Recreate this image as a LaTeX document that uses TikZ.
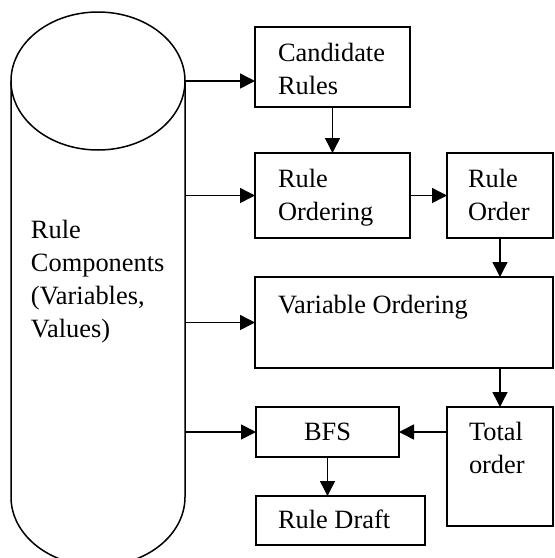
\documentclass[tikz,border=0pt]{standalone}
\usepackage{fontspec}
\setmainfont{Liberation Serif}
\usetikzlibrary{arrows.meta}
\newcommand{\boxfont}{\fontsize{13.2}{16.5}\selectfont}
\tikzset{
  blk/.style={draw, line width=.75pt, anchor=north west, outer sep=0pt, inner ysep=0pt, align=left, font=\boxfont,
    execute at begin node={\spaceskip=.25em\relax}},
  arr/.style={line width=.75pt, -{Triangle[length=7.5pt,width=7.5pt]}}
}
\begin{document}
\begin{tikzpicture}[x=.5pt,y=-.5pt]
\useasboundingbox (0,0) rectangle (554,558);
\node (db) at (11,81) [anchor=north west, outer sep=0pt, inner ysep=0pt, inner xsep=10pt, text width=67pt, align=left, font=\boxfont, text height=78.5pt, text depth=129.5pt] {Rule\\Components\\(Variables,\\Values)};
\draw[line width=.75pt] (db.north west) -- (db.south west) arc[start angle=180, end angle=0, x radius=87, y radius=69] -- (db.north east);
\draw[line width=.75pt] (db.north) ellipse [x radius=87, y radius=69];

\node (cand) at (255,27) [blk, inner xsep=11.5pt, text width=54.5pt, text height=17pt, text depth=23pt] {Candidate\\Rules};
\node (rord) at (255,153) [blk, inner xsep=11.5pt, text width=54.5pt, text height=17pt, text depth=25.5pt] {Rule\\Ordering};
\node (rorder) at (447,153) [blk, inner xsep=10.5pt, text width=32pt, text height=17pt, text depth=25.5pt] {Rule\\Order};
\node (vord) at (255,277) [blk, inner xsep=11.5pt, text width=126pt, text height=18pt, text depth=27.5pt] {Variable Ordering};
\node (tord) at (447,407) [blk, inner xsep=11pt, text width=31pt, text height=16.5pt, text depth=43pt] {Total\\order};
\node (bfs) at (256,407) [blk, align=center, inner xsep=11pt, text width=49.5pt, text height=16.5pt, text depth=8.5pt] {BFS};
\node (draft) at (256,496) [blk, inner xsep=11pt, text width=62.5pt, text height=16pt, text depth=8.5pt] {Rule Draft};

\draw[arr] (db.north east) -- (db.north east -| cand.west);
\draw[arr] (db.east |- rord.west) -- (rord.west);
\draw[arr] (db.east |- vord.west) -- (vord.west);
\draw[arr] (db.east |- bfs.west) -- (bfs.west);
\draw[arr] (cand.south) -- (rord.north);
\draw[arr] (rord.east) -- (rorder.west);
\draw[arr] (rorder.south) -- (rorder.south |- vord.north);
\draw[arr] (vord.south -| tord.north) -- (tord.north);
\draw[arr] (tord.west |- bfs.east) -- (bfs.east);
\draw[arr] (bfs.south) -- (bfs.south |- draft.north);
\end{tikzpicture}
\end{document}
